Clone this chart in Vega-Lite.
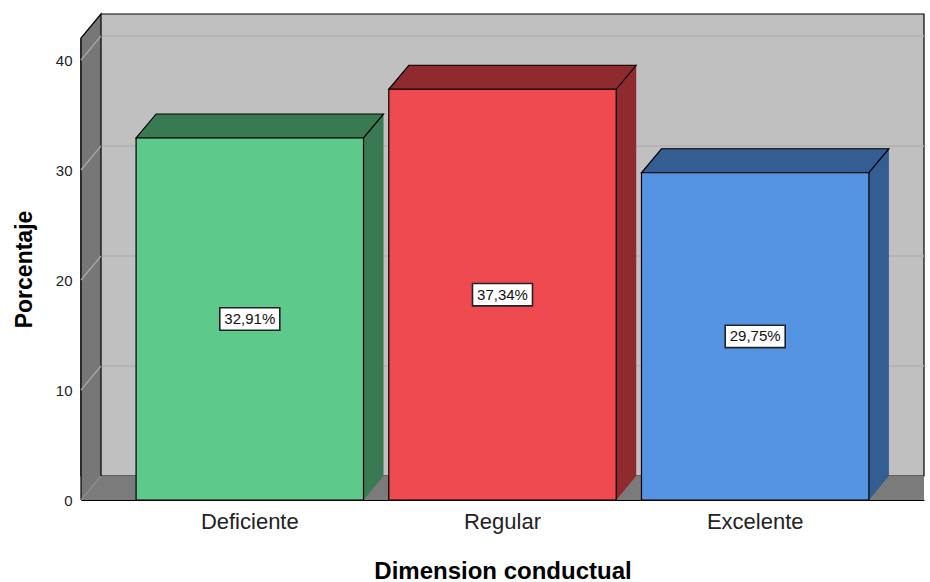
{
  "$schema": "https://vega.github.io/schema/vega-lite/v6.json",
  "width": 843,
  "height": 462,
  "autosize": {"type": "none"},
  "padding": {"left": 81, "top": 38, "right": 6, "bottom": 82},
  "background": "white",
  "config": {
    "view": {"stroke": null},
    "font": "Liberation Sans",
    "axisX": {"labelAngle": 0, "labelFontSize": 22, "labelColor": "#222", "labelPadding": 11, "ticks": false, "domainColor": "#000", "domainWidth": 1.2, "titleFontSize": 24, "titleFontWeight": "bold", "titleColor": "#000", "titlePadding": 27, "labelFont": "Liberation Sans", "titleFont": "Liberation Sans"},
    "axisY": {"labelFontSize": 15, "labelColor": "#222", "labelPadding": 9, "ticks": false, "domainColor": "#000", "grid": false, "titleFontSize": 23, "titleFontWeight": "bold", "titleColor": "#000", "titlePadding": 19, "labelFont": "Liberation Sans", "titleFont": "Liberation Sans"}
  },
  "datasets": {
    "bars": [
      {"cat": "Deficiente", "value": 32.91, "label": "32,91%"},
      {"cat": "Regular", "value": 37.34, "label": "37,34%"},
      {"cat": "Excelente", "value": 29.75, "label": "29,75%"}
    ],
    "ticks": [{"t": 10}, {"t": 20}, {"t": 30}, {"t": 40}],
    "one": [{"k": "wall"}]
  },
  "data": {"name": "bars"},
  "resolve": {"scale": {"y": "independent", "fill": "independent"}},
  "layer": [
    {
      "data": {"name": "one"},
      "mark": {"type": "rect", "fill": "#c0c0c0", "stroke": "#000", "strokeWidth": 1.2, "x2Offset": 20, "yOffset": -24, "y2Offset": -24},
      "encoding": {
        "y": {"datum": 0, "type": "quantitative", "scale": {"domain": [0, 42], "nice": false}, "axis": null},
        "y2": {"datum": 42}
      }
    },
    {
      "data": {"name": "one"},
      "mark": {"type": "rect", "fill": "#7b7b7b", "x2Offset": 20, "y2Offset": -24},
      "encoding": {
        "y": {"datum": 0, "type": "quantitative", "scale": {"domain": [0, 42], "nice": false}, "axis": null},
        "y2": {"datum": 0}
      }
    },
    {
      "data": {"name": "ticks"},
      "mark": {"type": "rule", "stroke": "#b0b0b0", "strokeWidth": 1.5, "x2Offset": 20, "yOffset": -24},
      "encoding": {
        "y": {"field": "t", "type": "quantitative", "scale": {"domain": [0, 42], "nice": false}, "axis": null}
      }
    },
    {
      "data": {"name": "one"},
      "mark": {"type": "point", "shape": "M-0.854,-2.305 L-0.854,-2.445 L-0.744,-2.445 L-0.744,-2.43 L-0.844,-2.31 Z", "size": 160000, "filled": true, "fill": "white", "strokeWidth": 0, "opacity": 1},
      "encoding": {
        "x": {"datum": "Deficiente", "type": "nominal", "title": "Dimension conductual", "scale": {"type": "band", "domain": ["Deficiente", "Regular", "Excelente"], "paddingInner": 0.1, "paddingOuter": 0.218}},
        "y": {"datum": 0, "type": "quantitative", "scale": {"domain": [0, 42], "nice": false}, "axis": null}
      }
    },
    {
      "data": {"name": "one"},
      "mark": {"type": "point", "shape": "M-0.744,-0.12 L-0.744,-2.43 L-0.844,-2.31 L-0.844,0", "size": 160000, "filled": true, "fill": "#777777", "stroke": "#000", "strokeWidth": 1.2, "opacity": 1},
      "encoding": {
        "x": {"datum": "Deficiente", "type": "nominal", "title": "Dimension conductual", "scale": {"type": "band", "domain": ["Deficiente", "Regular", "Excelente"], "paddingInner": 0.1, "paddingOuter": 0.218}},
        "y": {"datum": 0, "type": "quantitative", "scale": {"domain": [0, 42], "nice": false}, "axis": null}
      }
    },
    {
      "data": {"name": "one"},
      "mark": {"type": "point", "shape": "M-0.844,0 L-0.744,-0.12", "size": 160000, "filled": false, "stroke": "#8e8e8e", "strokeWidth": 1.2, "opacity": 1},
      "encoding": {
        "x": {"datum": "Deficiente", "type": "nominal", "title": "Dimension conductual", "scale": {"type": "band", "domain": ["Deficiente", "Regular", "Excelente"], "paddingInner": 0.1, "paddingOuter": 0.218}},
        "y": {"datum": 0, "type": "quantitative", "scale": {"domain": [0, 42], "nice": false}, "axis": null}
      }
    },
    {
      "data": {"name": "ticks"},
      "mark": {"type": "point", "shape": "M-0.844,0 L-0.744,-0.12", "size": 160000, "filled": false, "stroke": "#a8a8a8", "strokeWidth": 1.2, "opacity": 1},
      "encoding": {
        "x": {"datum": "Deficiente", "type": "nominal", "title": "Dimension conductual", "scale": {"type": "band", "domain": ["Deficiente", "Regular", "Excelente"], "paddingInner": 0.1, "paddingOuter": 0.218}},
        "y": {"field": "t", "type": "quantitative", "scale": {"domain": [0, 42], "nice": false}, "axis": null}
      }
    },
    {
      "mark": {"type": "bar", "xOffset": 20, "yOffset": -24, "y2Offset": -24},
      "encoding": {
        "x": {"field": "cat", "type": "nominal", "title": "Dimension conductual", "scale": {"type": "band", "domain": ["Deficiente", "Regular", "Excelente"], "paddingInner": 0.1, "paddingOuter": 0.218}},
        "y": {"field": "value", "type": "quantitative", "scale": {"domain": [0, 42], "nice": false}, "axis": null},
        "fill": {"field": "cat", "type": "nominal", "legend": null, "scale": {"domain": ["Deficiente", "Regular", "Excelente"], "range": ["#3a7a52", "#8f2a2e", "#345e92"]}}
      }
    },
    {
      "mark": {"type": "point", "shape": "M0.5685,0 L0.5685,-0.12 L0.6685,-0.12 Z", "size": 160000, "filled": true, "opacity": 1},
      "encoding": {
        "x": {"field": "cat", "type": "nominal", "title": "Dimension conductual", "scale": {"type": "band", "domain": ["Deficiente", "Regular", "Excelente"], "paddingInner": 0.1, "paddingOuter": 0.218}},
        "y": {"datum": 0, "type": "quantitative", "scale": {"domain": [0, 42], "nice": false}, "axis": null},
        "fill": {"field": "cat", "type": "nominal", "legend": null, "scale": {"domain": ["Deficiente", "Regular", "Excelente"], "range": ["#3a7a52", "#8f2a2e", "#345e92"]}}
      }
    },
    {
      "mark": {"type": "point", "shape": "M-0.5685,0 L0.5685,0 L0.6685,-0.12 L-0.4685,-0.12 Z", "size": 160000, "filled": true, "opacity": 1, "stroke": "#000", "strokeWidth": 1.2},
      "encoding": {
        "x": {"field": "cat", "type": "nominal", "title": "Dimension conductual", "scale": {"type": "band", "domain": ["Deficiente", "Regular", "Excelente"], "paddingInner": 0.1, "paddingOuter": 0.218}},
        "y": {"field": "value", "type": "quantitative", "scale": {"domain": [0, 42], "nice": false}, "axis": null},
        "fill": {"field": "cat", "type": "nominal", "legend": null, "scale": {"domain": ["Deficiente", "Regular", "Excelente"], "range": ["#3a7a52", "#8f2a2e", "#345e92"]}}
      }
    },
    {
      "mark": {"type": "bar", "stroke": "#000", "strokeWidth": 1.2},
      "encoding": {
        "x": {"field": "cat", "type": "nominal", "title": "Dimension conductual", "scale": {"type": "band", "domain": ["Deficiente", "Regular", "Excelente"], "paddingInner": 0.1, "paddingOuter": 0.218}},
        "y": {"field": "value", "type": "quantitative", "title": "Porcentaje", "scale": {"domain": [0, 42], "nice": false}, "axis": {"values": [0, 10, 20, 30, 40]}},
        "fill": {"field": "cat", "type": "nominal", "legend": null, "scale": {"domain": ["Deficiente", "Regular", "Excelente"], "range": ["#5dc98b", "#ee4a4f", "#5494e2"]}}
      }
    },
    {
      "mark": {"type": "point", "shape": "M-0.15,-0.056 L0.15,-0.056 L0.15,0.056 L-0.15,0.056 Z", "size": 160000, "filled": true, "fill": "white", "stroke": "#222", "strokeWidth": 1.6, "opacity": 1},
      "encoding": {
        "x": {"field": "cat", "type": "nominal", "title": "Dimension conductual", "scale": {"type": "band", "domain": ["Deficiente", "Regular", "Excelente"], "paddingInner": 0.1, "paddingOuter": 0.218}},
        "y": {"field": "value", "type": "quantitative", "scale": {"domain": [0, 84], "nice": false}, "axis": null}
      }
    },
    {
      "mark": {"type": "text", "fontSize": 15, "font": "Liberation Sans", "color": "#111", "baseline": "middle", "align": "center"},
      "encoding": {
        "x": {"field": "cat", "type": "nominal", "title": "Dimension conductual", "scale": {"type": "band", "domain": ["Deficiente", "Regular", "Excelente"], "paddingInner": 0.1, "paddingOuter": 0.218}},
        "y": {"field": "value", "type": "quantitative", "scale": {"domain": [0, 84], "nice": false}, "axis": null},
        "text": {"field": "label"}
      }
    }
  ]
}
